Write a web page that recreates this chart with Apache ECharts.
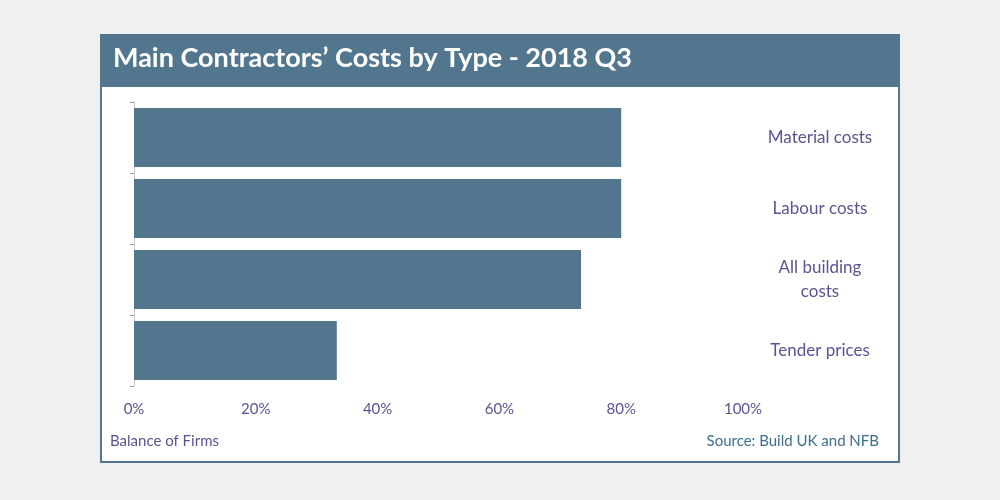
<!DOCTYPE html><html><head><meta charset="utf-8"><script src="https://cdn.jsdelivr.net/npm/echarts@6/dist/echarts.min.js"></script>
<style>body{margin:0;background:#f0f0f0}#c{width:1000px;height:500px}</style></head><body><div id="c"></div><script>
const categories=["Material costs","Labour costs","All building\ncosts","Tender prices"];
const values=[80,80,73.4,33.3];
const xTicks=[0,20,40,60,80,100];
const blue="#53768f", txt="#5b5394";
const ch=echarts.init(document.getElementById('c'));
ch.setOption({
backgroundColor:"#f0f0f0",
graphic:[
{type:'rect',shape:{x:101,y:35,width:798,height:427},style:{fill:'#fff',stroke:blue,lineWidth:2},z:-10},
{type:'rect',shape:{x:101,y:35,width:798,height:52},style:{fill:blue},z:-9},
{type:'text',left:113,top:45,style:{text:"Main Contractors’ Costs by Type - 2018 Q3",fill:'#fff',font:'bold 27px Lato'}},
{type:'text',left:110,top:434,style:{text:"Balance of Firms",fill:txt,font:'15px Lato'}},
{type:'text',right:121,top:434,style:{text:"Source: Build UK and NFB",fill:'#3e6f8a',font:'15px Lato'}}
],
grid:{left:134,right:257,top:102,bottom:114},
xAxis:{type:'value',min:0,max:100,interval:20,axisLine:{show:false},axisTick:{show:false},splitLine:{show:false},
 axisLabel:{margin:16,color:txt,fontFamily:'Lato',fontSize:15,formatter:v=>xTicks.includes(v)?v+'%':''}},
yAxis:[{type:'category',inverse:true,data:categories,axisLine:{show:true,lineStyle:{color:'#ccc'}},axisTick:{show:true,length:4,lineStyle:{color:'#999'}},axisLabel:{show:false}},
{type:'category',inverse:true,position:'right',data:categories,axisLine:{show:false},axisTick:{show:false},
 axisLabel:{margin:77,align:'center',color:txt,fontFamily:'Lato',fontSize:17,lineHeight:24}}],
series:[{type:'bar',data:values,barCategoryGap:'17%',itemStyle:{color:blue},yAxisIndex:0}]
});
</script></body></html>
